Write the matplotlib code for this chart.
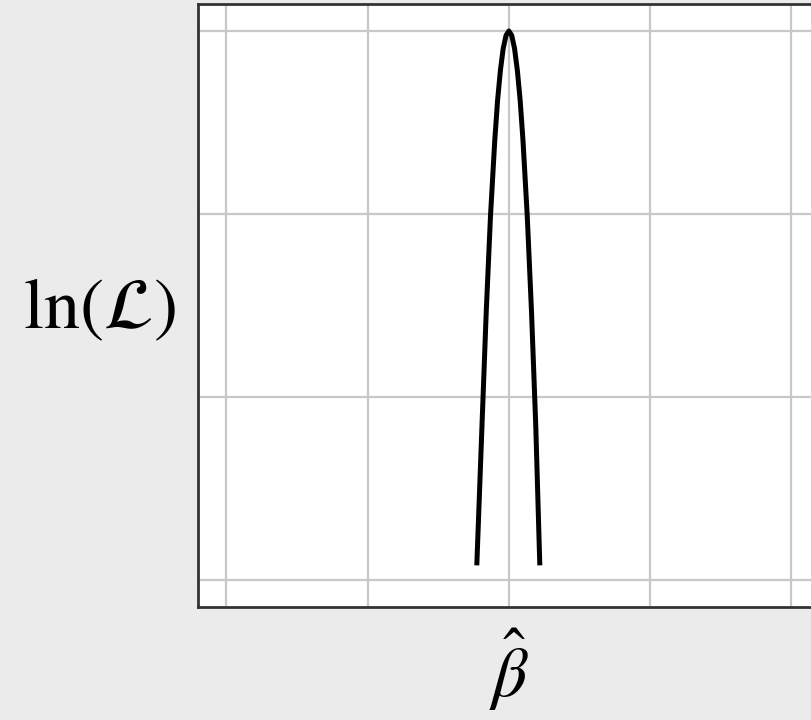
import matplotlib
matplotlib.use("Agg")
import matplotlib.pyplot as plt

# log-likelihood around the estimate, offsets in units of one grid step
beta_offsets = [-0.227, -0.19, -0.16, -0.13, -0.10, -0.08, -0.06, -0.04, -0.02, 0.0,
                0.02, 0.04, 0.06, 0.08, 0.10, 0.13, 0.16, 0.19, 0.219]
loglik = [-2.92, -2.15, -1.53, -1.01, -0.60, -0.38, -0.215, -0.095, -0.024, 0.0,
          -0.024, -0.095, -0.215, -0.38, -0.60, -1.01, -1.53, -2.15, -2.92]

x_ticks = [-2, -1, 0, 1, 2]
x_tick_labels = ["", "", r"$\hat{\beta}$", "", ""]
y_ticks = [-3, -2, -1, 0]

plt.rcParams["mathtext.fontset"] = "stix"
plt.rcParams["font.family"] = "Liberation Serif"

W, H = 811, 720
fig = plt.figure(figsize=(W / 100, H / 100), dpi=100, facecolor="#ebebeb")
left, right, top, bottom = 198, 830, 4, 607
ax = fig.add_axes([left / W, (H - bottom) / H, (right - left) / W, (bottom - top) / H])
ax.set_facecolor("white")

ax.plot(beta_offsets, loglik, color="black", lw=3.6, solid_capstyle="butt", zorder=3)

ax.set_xlim(-2.2, (right - 509) / 141.25)
ax.set_ylim(-(bottom - 31) / 183, (31 - top) / 183)
ax.set_xticks(x_ticks)
ax.set_xticklabels(x_tick_labels, fontsize=50)
ax.set_yticks(y_ticks)
ax.set_yticklabels([])
ax.tick_params(length=0, pad=14)
ax.grid(True, color="#c8c8c8", lw=1.6)
ax.set_axisbelow(True)

for side in ["left", "top", "bottom"]:
    ax.spines[side].set_color("#333333")
    ax.spines[side].set_linewidth(2.0)
ax.spines["right"].set_visible(False)

ax.set_ylabel(r"$\mathrm{ln}(\mathcal{L})$", rotation=0, fontsize=52, va="center", ha="center")
ax.yaxis.set_label_coords((99 - left) / (right - left), (bottom - 310) / (bottom - top))

fig.savefig("out.png", dpi=100, facecolor=fig.get_facecolor())
